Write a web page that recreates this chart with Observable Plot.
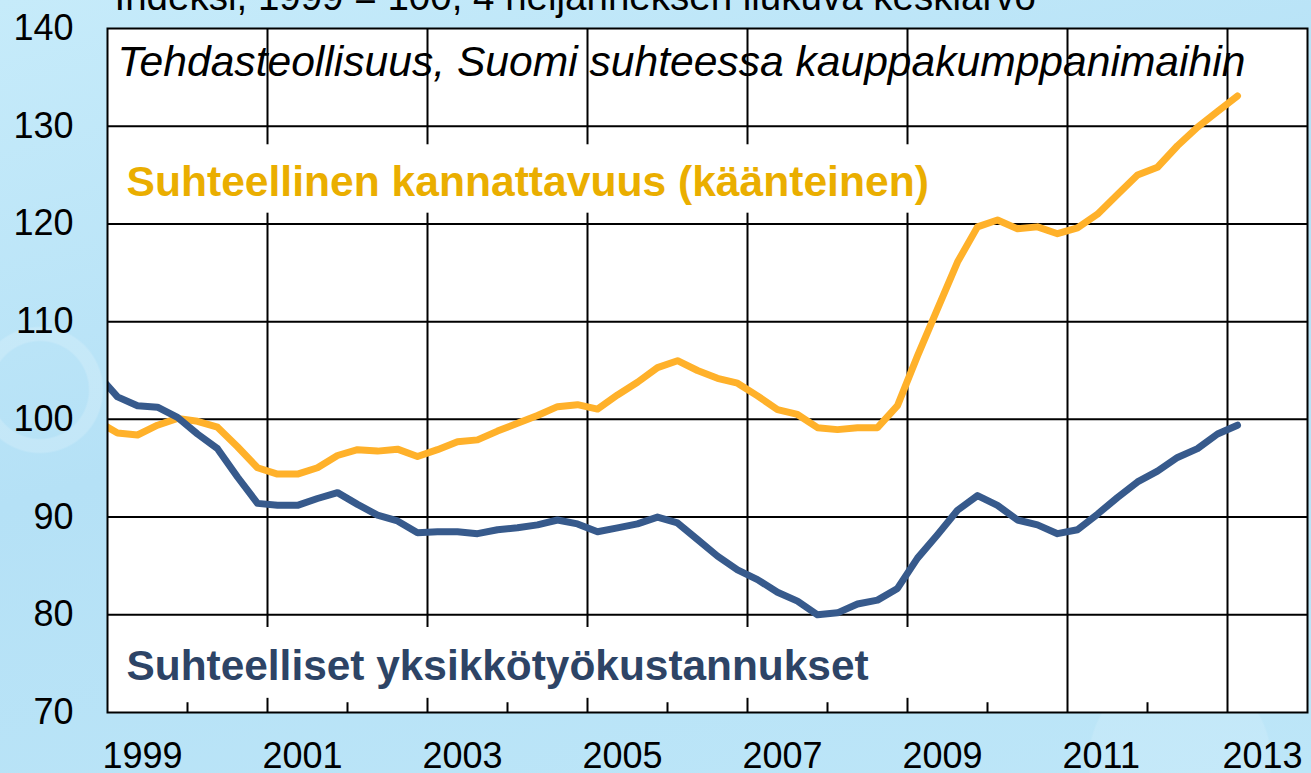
<!DOCTYPE html>
<html>
<head>
<meta charset="utf-8">
<script src="https://cdn.jsdelivr.net/npm/d3@7"></script>
<script src="https://cdn.jsdelivr.net/npm/@observablehq/plot@0.6"></script>
<style>
html, body { margin: 0; padding: 0; }
body {
  width: 1311px; height: 773px; overflow: hidden;
  background:
    radial-gradient(circle at 40px 390px, rgba(255,255,255,0) 0 48px, rgba(255,255,255,0.18) 50px 62px, rgba(255,255,255,0) 64px),
    radial-gradient(circle at 1180px 760px, rgba(255,255,255,0.12) 0 90px, rgba(255,255,255,0) 92px),
    linear-gradient(165deg, #c6ebfa 0%, #b5e1f6 45%, #bde6f8 100%);
}
#chart svg { display: block; }
</style>
</head>
<body>
<div id="chart"></div>
<script>
// ---- Data ----
const quarters = [
  "1998Q4",
  "1999Q1","1999Q2","1999Q3","1999Q4",
  "2000Q1","2000Q2","2000Q3","2000Q4",
  "2001Q1","2001Q2","2001Q3","2001Q4",
  "2002Q1","2002Q2","2002Q3","2002Q4",
  "2003Q1","2003Q2","2003Q3","2003Q4",
  "2004Q1","2004Q2","2004Q3","2004Q4",
  "2005Q1","2005Q2","2005Q3","2005Q4",
  "2006Q1","2006Q2","2006Q3","2006Q4",
  "2007Q1","2007Q2","2007Q3","2007Q4",
  "2008Q1","2008Q2","2008Q3","2008Q4",
  "2009Q1","2009Q2","2009Q3","2009Q4",
  "2010Q1","2010Q2","2010Q3","2010Q4",
  "2011Q1","2011Q2","2011Q3","2011Q4",
  "2012Q1","2012Q2","2012Q3","2012Q4",
  "2013Q1"
];

// Suhteellinen kannattavuus (käänteinen)
const kannattavuus = [
  99.8,
  98.6, 98.4, 99.4, 100.1,
  99.8, 99.2, 97.2, 95.05,
  94.4, 94.4, 95.05, 96.3,
  96.9, 96.75, 96.95, 96.2,
  96.9, 97.7, 97.9, 98.8,
  99.6, 100.4, 101.3, 101.5,
  101.05, 102.5, 103.8, 105.3,
  106.0, 105.0, 104.2, 103.7,
  102.4, 101.0, 100.5, 99.15,
  98.95, 99.15, 99.15, 101.4,
  106.5, 111.3, 116.1, 119.7,
  120.4, 119.5, 119.7, 119.0,
  119.6, 121.0, 123.0, 125.0,
  125.8, 128.0, 129.9, 131.5,
  133.1
];

// Suhteelliset yksikkötyökustannukset
const yksikkotyokustannukset = [
  104.6,
  102.3, 101.4, 101.25, 100.2,
  98.5, 97.0, 94.1, 91.4,
  91.2, 91.2, 91.9, 92.5,
  91.3, 90.2, 89.6, 88.4,
  88.5, 88.5, 88.3, 88.7,
  88.9, 89.2, 89.7, 89.3,
  88.5, 88.9, 89.3, 90.0,
  89.4, 87.7, 86.0, 84.6,
  83.6, 82.3, 81.4, 80.0,
  80.2, 81.1, 81.5, 82.7,
  85.8, 88.2, 90.7, 92.2,
  91.2, 89.7, 89.2, 88.3,
  88.7, 90.3, 92.0, 93.6,
  94.7, 96.1, 97.0, 98.5,
  99.4
];

const yTicks = [70, 80, 90, 100, 110, 120, 130, 140];
const xTickLabels = [1999, 2001, 2003, 2005, 2007, 2009, 2011, 2013];
const yearTicks = [2000, 2002, 2004, 2006, 2008, 2010, 2012];

const subtitleText = "Indeksi, 1999 = 100, 4 neljänneksen liukuva keskiarvo";
const titleText = "Tehdasteollisuus, Suomi suhteessa kauppakumppanimaihin";
const labelKannattavuus = "Suhteellinen kannattavuus (käänteinen)";
const labelYksikko = "Suhteelliset yksikkötyökustannukset";

// ---- Build table ----
const quarterToX = q => +q.slice(0, 4) + (+q.slice(5) - 0.5) / 4;
const rows = [];
quarters.forEach((q, i) => {
  rows.push({t: quarterToX(q), v: kannattavuus[i], s: "kannattavuus"});
});
quarters.forEach((q, i) => {
  rows.push({t: quarterToX(q), v: yksikkotyokustannukset[i], s: "yksikko"});
});

const ORANGE = "#FFB12A";
const BLUE = "#375A8C";
const FONT = "'Liberation Sans', Arial, Helvetica, sans-serif";

const plot = Plot.plot({
  width: 1311,
  height: 773,
  marginLeft: 107,
  marginRight: 4,
  marginTop: 28,
  marginBottom: 61,
  style: {background: "transparent", fontFamily: FONT, color: "#000", overflow: "visible"},
  x: {domain: [1999, 2014]},
  y: {domain: [70, 140]},
  marks: [
    Plot.frame({fill: "white", stroke: "none"}),
    Plot.ruleY(yTicks.filter(d => d > 70 && d < 140), {stroke: "#000", strokeWidth: 2}),
    Plot.ruleX(xTickLabels.filter(d => d > 1999), {stroke: "#000", strokeWidth: 2}),
    // white label boxes
    Plot.rect([0], {x1: 1999.03, x2: 2009.5, y1: 121.1, y2: 128.1, fill: "white"}),
    Plot.rect([0], {x1: 1999.03, x2: 2010.9, y1: 71.45, y2: 78.7, fill: "white"}),
    // minor year ticks
    Plot.ruleX(yearTicks, {y1: 70, y2: 71.0, stroke: "#000", strokeWidth: 2}),
    Plot.axisY({ticks: yTicks, tickSize: 0, tickPadding: 34, fontSize: 36, label: null, fill: "#000"}),
    Plot.axisX({ticks: xTickLabels, tickFormat: d => String(d), tickSize: 0, tickPadding: 30,
                textAnchor: "start", dx: -5, fontSize: 36, label: null, fill: "#000"}),
    Plot.line(rows.filter(d => d.s === "kannattavuus"), {x: "t", y: "v", stroke: ORANGE, strokeWidth: 7, clip: true}),
    Plot.line(rows.filter(d => d.s === "yksikko"), {x: "t", y: "v", stroke: BLUE, strokeWidth: 7, clip: true}),
    Plot.text([subtitleText], {text: d => d, frameAnchor: "top-left", textAnchor: "start", lineAnchor: "bottom",
                               dx: 7, dy: -19, fontSize: 38.5, fill: "#000"}),
    Plot.text([titleText], {text: d => d, frameAnchor: "top-left", textAnchor: "start", lineAnchor: "bottom",
                            dx: 10, dy: 47, fontSize: 42.6, fontStyle: "italic", fill: "#000"}),
    Plot.text([labelKannattavuus], {text: d => d, frameAnchor: "top-left", textAnchor: "start", lineAnchor: "bottom",
                                    dx: 19, dy: 167, fontSize: 42.6, fontWeight: "bold", fill: "#EAAE00"}),
    Plot.text([labelYksikko], {text: d => d, frameAnchor: "top-left", textAnchor: "start", lineAnchor: "bottom",
                               dx: 19, dy: 651, fontSize: 42.4, fontWeight: "bold", fill: "#2D4466"}),
    Plot.frame({stroke: "#000", strokeWidth: 2})
  ]
});

document.getElementById("chart").append(plot);
</script>
</body>
</html>
